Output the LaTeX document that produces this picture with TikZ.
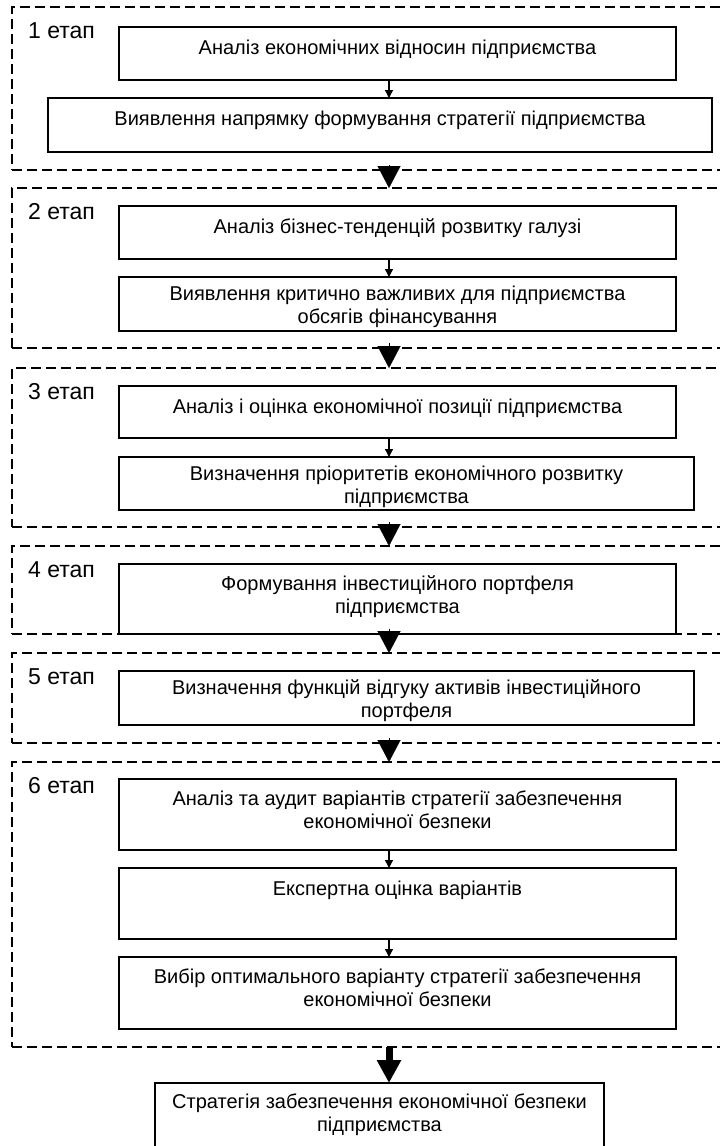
\documentclass[tikz,border=0pt]{standalone}
\usepackage{fontspec}
\setmainfont{Liberation Sans}
\usetikzlibrary{arrows.meta}
\begin{document}
\begin{tikzpicture}[x=1pt,y=-1pt,
  stagebox/.style={draw, line width=2.5pt, dash pattern=on 10pt off 5pt, outer sep=0pt, inner sep=0pt, anchor=north west},
  procbox/.style={draw, fill=white, line width=1.3pt, outer sep=0pt, inner sep=0pt, anchor=north west},
  txtbase/.style={anchor=base, align=center, inner sep=0pt, font=\fontsize{20}{23}\selectfont},
  txtone/.style={txtbase, yshift=-27pt},
  txttwo/.style={txtbase, yshift=-46pt},
  txttall/.style={txtbase, yshift=-49pt},
  stl/.style={anchor=base west, xshift=16pt, yshift=-31pt, inner sep=0pt, font=\fontsize{23}{26}\selectfont},
  smallarrow/.style={line width=1.3pt, -{Triangle[width=8pt 0, length=8pt 0]}},
  bigtri/.style={line width=0.1pt, -{Triangle[width=23pt 0, length=22pt 0]}},
  thickarrow/.style={line width=7pt, -{Triangle[width=23pt 0, length=23pt 0]}}
]
\useasboundingbox (0,0) rectangle (720,1146);
\coordinate (ax) at (389,0);

% stages
\node[stagebox, minimum width=730pt, minimum height=163pt, label={[stl]north west:1 етап}] (s1) at (12,7) {};
\node[stagebox, minimum width=730pt, minimum height=160pt, label={[stl]north west:2 етап}] (s2) at (12,188) {};
\node[stagebox, minimum width=730pt, minimum height=159pt, label={[stl]north west:3 етап}] (s3) at (12,368) {};
\node[stagebox, minimum width=730pt, minimum height=88pt, label={[stl]north west:4 етап}] (s4) at (12,546) {};
\node[stagebox, minimum width=730pt, minimum height=90pt, label={[stl]north west:5 етап}] (s5) at (12,653) {};
\node[stagebox, minimum width=730pt, minimum height=285pt, label={[stl]north west:6 етап}] (s6) at (12,762) {};

% process boxes
\node[procbox, minimum width=557pt, minimum height=53pt, label={[txtone]north:Аналіз економічних відносин підприємства}] (b1a) at (119,27) {};
\node[procbox, minimum width=664pt, minimum height=54pt, label={[txtone]north:Виявлення напрямку формування стратегії підприємства}] (b1b) at (48,98) {};
\node[procbox, minimum width=557pt, minimum height=53pt, label={[txtone]north:Аналіз бізнес-тенденцій розвитку галузі}] (b2a) at (119,206) {};
\node[procbox, minimum width=557pt, minimum height=54pt, label={[txttwo]north:{Виявлення критично важливих для підприємства\\обсягів фінансування}}] (b2b) at (119,277) {};
\node[procbox, minimum width=557pt, minimum height=52pt, label={[txtone]north:Аналіз і оцінка економічної позиції підприємства}] (b3a) at (119,386) {};
\node[procbox, minimum width=575pt, minimum height=53pt, label={[txttwo]north:{Визначення пріоритетів економічного розвитку\\підприємства}}] (b3b) at (119,457) {};
\node[procbox, minimum width=557pt, minimum height=70pt, label={[txttall]north:{Формування інвестиційного портфеля\\підприємства}}] (b4) at (119,564) {};
\node[procbox, minimum width=575pt, minimum height=54pt, label={[txttwo]north:{Визначення функцій відгуку активів інвестиційного\\портфеля}}] (b5) at (119,671) {};
\node[procbox, minimum width=557pt, minimum height=71pt, label={[txttall]north:{Аналіз та аудит варіантів стратегії забезпечення\\економічної безпеки}}] (b6a) at (119,779) {};
\node[procbox, minimum width=557pt, minimum height=71pt, label={[txtone]north:Експертна оцінка варіантів}] (b6b) at (119,868) {};
\node[procbox, minimum width=557pt, minimum height=72pt, label={[txttall]north:{Вибір оптимального варіанту стратегії забезпечення\\економічної безпеки}}] (b6c) at (119,957) {};
\node[procbox, minimum width=449pt, minimum height=70pt, label={[txttall, yshift=1pt]north:{Стратегія забезпечення економічної безпеки\\підприємства}}] (fin) at (155,1083) {};

% arrows inside stages
\draw[smallarrow] (b1a.south -| ax) -- (b1b.north -| ax);
\draw[smallarrow] (b2a.south -| ax) -- (b2b.north -| ax);
\draw[smallarrow] (b3a.south -| ax) -- (b3b.north -| ax);
\draw[smallarrow] (b6a.south -| ax) -- (b6b.north -| ax);
\draw[smallarrow] (b6b.south -| ax) -- (b6c.north -| ax);

% arrows between stages
\draw[bigtri] ([yshift=5pt]s1.south -| ax) -- (s2.north -| ax);
\draw[bigtri] ([yshift=5pt]s2.south -| ax) -- (s3.north -| ax);
\draw[bigtri] ([yshift=5pt]s3.south -| ax) -- (s4.north -| ax);
\draw[bigtri] ([yshift=5pt]s4.south -| ax) -- (s5.north -| ax);
\draw[bigtri] ([yshift=5pt]s5.south -| ax) -- (s6.north -| ax);
\draw[thickarrow] (s6.south -| ax) -- (fin.north -| ax);
\end{tikzpicture}
\end{document}
